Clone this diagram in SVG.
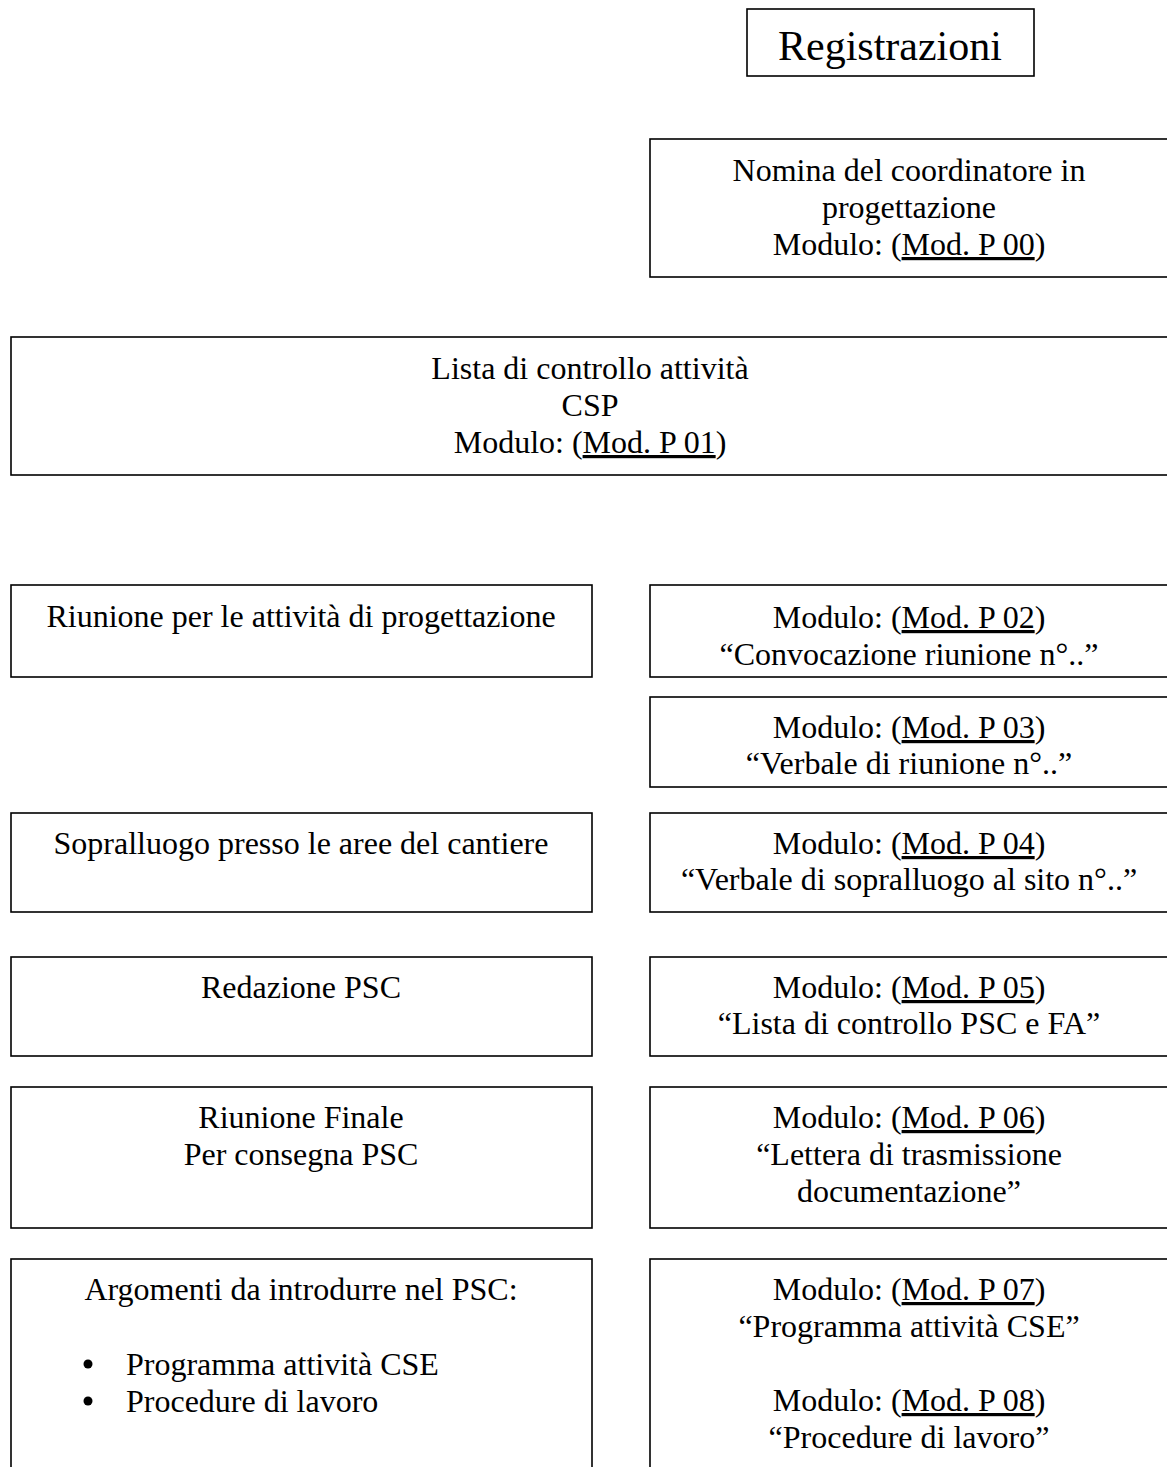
<svg xmlns="http://www.w3.org/2000/svg" width="1167" height="1467" viewBox="0 0 1167 1467">
<style>
rect.box{fill:#fff;stroke:#000;stroke-width:1.6}
text{font-family:"Liberation Serif","Times New Roman",serif;font-size:32px;fill:#000;text-anchor:middle}
text.title{font-size:42px}
text.left{text-anchor:start}
.u{text-decoration:underline}
</style>
<rect width="1167" height="1467" fill="#fff"/>
<g id="connectors"></g>
<g id="registrazioni">
<rect class="box" x="747" y="9" width="287" height="67"/>
<text class="title" x="890" y="60">Registrazioni</text>
</g>
<g id="nomina">
<rect class="box" x="650" y="139" width="522" height="138"/>
<text x="909" y="181">Nomina del coordinatore in</text>
<text x="909" y="218">progettazione</text>
<text x="909" y="255">Modulo: (<tspan class="u">Mod. P 00</tspan>)</text>
</g>
<g id="lista">
<rect class="box" x="11" y="337" width="1161" height="138"/>
<text x="590" y="379">Lista di controllo attività</text>
<text x="590" y="416">CSP</text>
<text x="590" y="453">Modulo: (<tspan class="u">Mod. P 01</tspan>)</text>
</g>
<g id="riunione">
<rect class="box" x="11" y="585" width="581" height="92"/>
<text x="301" y="627">Riunione per le attività di progettazione</text>
</g>
<g id="p02">
<rect class="box" x="650" y="585" width="522" height="92"/>
<text x="909" y="628">Modulo: (<tspan class="u">Mod. P 02</tspan>)</text>
<text x="909" y="665">“Convocazione riunione n°..”</text>
</g>
<g id="p03">
<rect class="box" x="650" y="697" width="522" height="90"/>
<text x="909" y="738">Modulo: (<tspan class="u">Mod. P 03</tspan>)</text>
<text x="909" y="774">“Verbale di riunione n°..”</text>
</g>
<g id="sopralluogo">
<rect class="box" x="11" y="813" width="581" height="99"/>
<text x="301" y="854">Sopralluogo presso le aree del cantiere</text>
</g>
<g id="p04">
<rect class="box" x="650" y="813" width="522" height="99"/>
<text x="909" y="854">Modulo: (<tspan class="u">Mod. P 04</tspan>)</text>
<text x="909" y="890">“Verbale di sopralluogo al sito n°..”</text>
</g>
<g id="redazione">
<rect class="box" x="11" y="957" width="581" height="99"/>
<text x="301" y="998">Redazione PSC</text>
</g>
<g id="p05">
<rect class="box" x="650" y="957" width="522" height="99"/>
<text x="909" y="998">Modulo: (<tspan class="u">Mod. P 05</tspan>)</text>
<text x="909" y="1034">“Lista di controllo PSC e FA”</text>
</g>
<g id="riunione-finale">
<rect class="box" x="11" y="1087" width="581" height="141"/>
<text x="301" y="1128">Riunione Finale</text>
<text x="301" y="1165">Per consegna PSC</text>
</g>
<g id="p06">
<rect class="box" x="650" y="1087" width="522" height="141"/>
<text x="909" y="1128">Modulo: (<tspan class="u">Mod. P 06</tspan>)</text>
<text x="909" y="1165">“Lettera di trasmissione</text>
<text x="909" y="1202">documentazione”</text>
</g>
<g id="argomenti">
<rect class="box" x="11" y="1259" width="581" height="240"/>
<text x="301" y="1300">Argomenti da introdurre nel PSC:</text>
<circle cx="88" cy="1364" r="4.5" fill="#000"/>
<text class="left" x="126" y="1375">Programma attività CSE</text>
<circle cx="88" cy="1401" r="4.5" fill="#000"/>
<text class="left" x="126" y="1412">Procedure di lavoro</text>
</g>
<g id="p07-p08">
<rect class="box" x="650" y="1259" width="522" height="240"/>
<text x="909" y="1300">Modulo: (<tspan class="u">Mod. P 07</tspan>)</text>
<text x="909" y="1337">“Programma attività CSE”</text>
<text x="909" y="1411">Modulo: (<tspan class="u">Mod. P 08</tspan>)</text>
<text x="909" y="1448">“Procedure di lavoro”</text>
</g>
</svg>
